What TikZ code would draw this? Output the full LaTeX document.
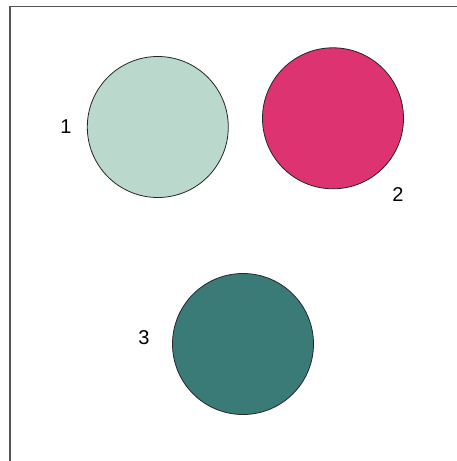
\documentclass[tikz,border=0pt]{standalone}
\usepackage{fontspec}
\setmainfont{Liberation Sans}
\usepackage{xcolor}
\usepackage{tikz}
\definecolor{mintc}{HTML}{BBD8CD}
\definecolor{rosec}{HTML}{DD3370}
\definecolor{tealc}{HTML}{3A7B78}
\definecolor{framec}{HTML}{555555}

\begin{document}
\begin{tikzpicture}[x=1pt,y=-1pt,font=\fontsize{20}{22}\selectfont,
  blob/.style={draw=black!85,line width=0.8pt,circle,inner sep=0pt,minimum size=141pt}]
\useasboundingbox (0,0) rectangle (457,461);
\coordinate (ftop) at (457,6.5); \coordinate (fcorner) at (9.8,6.5); \coordinate (fbot) at (9.8,461);
\draw[framec,line width=1.5pt] (ftop)--(fcorner)--(fbot);
\node[blob,fill=mintc] (c1) at (157.8,127) {};
\node[blob,fill=rosec] (c2) at (333,118.3) {};
\node[blob,fill=tealc] (c3) at (243,344) {};
\node (l1) at (66,127) {1};
\node (l2) at (398,194.5) {2};
\node (l3) at (144,338) {3};
\end{tikzpicture}
\end{document}
